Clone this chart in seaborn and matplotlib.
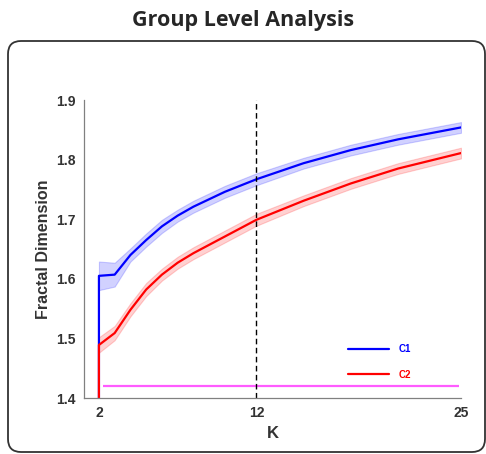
import numpy as np
import pandas as pd
import seaborn as sns
import matplotlib.pyplot as plt
from matplotlib.patches import FancyBboxPatch

# K values (first entry repeats k=2 to draw the vertical rise from below the axis)
k = [2, 2, 3, 4, 5, 6, 7, 8, 10, 12, 15, 18, 21, 25]
c1_mean = [1.0, 1.605, 1.607, 1.640, 1.665, 1.688, 1.706, 1.721, 1.746, 1.767, 1.794, 1.816, 1.834, 1.854]
c1_err = [0.0, 0.024, 0.020, 0.011, 0.011, 0.011, 0.010, 0.010, 0.010, 0.010, 0.009, 0.009, 0.009, 0.009]
c2_mean = [1.0, 1.489, 1.509, 1.548, 1.582, 1.607, 1.627, 1.643, 1.671, 1.699, 1.731, 1.760, 1.785, 1.811]
c2_err = [0.0, 0.013, 0.012, 0.011, 0.011, 0.010, 0.010, 0.010, 0.010, 0.010, 0.009, 0.009, 0.009, 0.009]

sig_level = 1.42
sig_span = [2.25, 24.9]
k_marker = 12

df = pd.DataFrame({'K': k * 2,
                   'FD': c1_mean + c2_mean,
                   'err': c1_err + c2_err,
                   'group': ['C1'] * len(k) + ['C2'] * len(k)})
colors = {'C1': '#0000ff', 'C2': '#ff0000'}

sns.set_style('white')
plt.rcParams['font.family'] = ['Liberation Sans', 'DejaVu Sans']

fig = plt.figure(figsize=(4.86, 4.54), dpi=100)
ax = fig.add_axes([0.1728, 0.1233, 0.7758, 0.6564])

# rounded frame around the panel
box = FancyBboxPatch((0.08, 0.02), 4.77, 4.11, boxstyle='round,pad=0,rounding_size=0.13',
                     transform=fig.dpi_scale_trans, facecolor='none',
                     edgecolor='#333333', linewidth=1.3, zorder=0)
fig.patches.append(box)

for g, sub in df.groupby('group'):
    band = sub.iloc[1:]
    ax.fill_between(band['K'], band['FD'] - band['err'], band['FD'] + band['err'],
                    color=colors[g], alpha=0.18, linewidth=0.8)
    sns.lineplot(data=sub, x='K', y='FD', estimator=None, sort=False,
                 color=colors[g], linewidth=1.6, label=g, ax=ax)

ax.hlines(sig_level, sig_span[0], sig_span[1], color='#ff5cff', linewidth=1.6)
ax.axvline(k_marker, color='black', linestyle=(0, (4, 2.5)), linewidth=1.0)

ax.set_xlim(1.05, 25)
ax.set_ylim(1.4, 1.9)
ax.set_xticks([2, 12, 25])
ax.set_yticks([1.4, 1.5, 1.6, 1.7, 1.8, 1.9])
ax.set_yticklabels(['1.4', '1.5', '1.6', '1.7', '1.8', '1.9'])
ax.tick_params(direction='in', length=3, width=0.8, color='#808080',
               labelsize=10, labelcolor='#333333', pad=6)
for lab in ax.get_xticklabels() + ax.get_yticklabels():
    lab.set_fontweight('bold')

for side in ['top', 'right']:
    ax.spines[side].set_visible(False)
for side in ['left', 'bottom']:
    ax.spines[side].set_color('#808080')
    ax.spines[side].set_linewidth(0.9)

ax.set_xlabel('K', fontsize=12, fontweight='bold', color='#333333', labelpad=4)
ax.set_ylabel('Fractal Dimension', fontsize=11.5, fontweight='bold', color='#333333', labelpad=4)

leg = ax.legend(loc='upper left', bbox_to_anchor=(0.716, 0.242), bbox_transform=fig.transFigure,
                frameon=False, fontsize=7, handlelength=4.2, handletextpad=1.0,
                labelspacing=1.6, borderpad=0, borderaxespad=0, labelcolor='linecolor')
for t in leg.get_texts():
    t.set_fontweight('bold')

fig.text(0.5, 0.955, 'Group Level Analysis', ha='center', va='center',
         fontsize=15.5, fontweight='bold', family=['Open Sans', 'DejaVu Sans'])

fig.savefig('out.png', dpi=100)
